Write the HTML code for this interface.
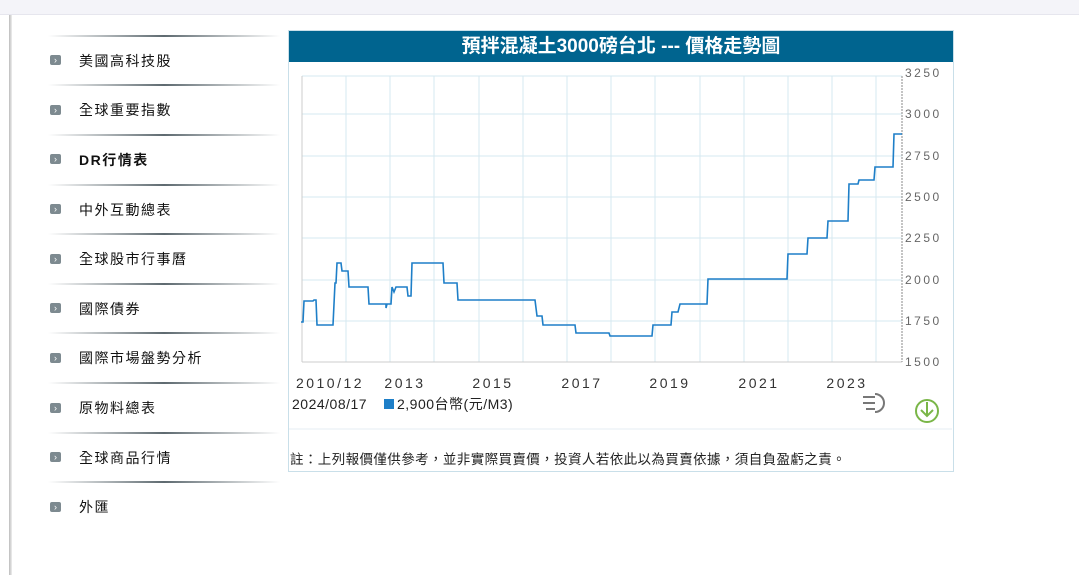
<!DOCTYPE html>
<html><head><meta charset="utf-8"><style>
body{margin:0;width:1079px;height:574px;background:#fff;position:relative;overflow:hidden;font-family:"Liberation Sans","Noto Sans CJK TC",sans-serif;}
.top{position:absolute;left:0;top:0;width:1079px;height:14px;background:#f4f4f9;border-bottom:1px solid #e6e6ee;}
.lb{position:absolute;left:9px;top:15px;width:3px;height:560px;background:linear-gradient(to right,#bbb,#eee);}
.sep{position:absolute;left:48px;width:232px;height:2px;background:linear-gradient(to right,rgba(120,130,135,0),#5e6a70 50%,rgba(120,130,135,0));}
.it{position:absolute;left:79px;font-size:14px;letter-spacing:1.5px;color:#111;}
.ic{position:absolute;left:50px;width:11px;height:10px;background:#7d8a90;border-radius:2px;color:#fff;font-size:9px;line-height:10px;text-align:center;}
.box{position:absolute;left:288px;top:30px;width:664px;height:440px;border:1px solid #c9dfe9;}
.hd{position:absolute;left:289px;top:31px;width:664px;height:31px;background:#00648f;color:#fff;font-weight:bold;font-size:19px;text-align:center;line-height:31px;}
</style></head><body>
<div class="top"></div><div class="lb"></div>
<div class="box"></div>
<div class="hd">預拌混凝土3000磅台北 --- 價格走勢圖</div>
<div class="sep" style="top:35px"></div><div class="ic" style="top:55px">›</div><div class="it" style="top:51px">美國高科技股</div>
<div class="sep" style="top:84px"></div><div class="ic" style="top:105px">›</div><div class="it" style="top:100px">全球重要指數</div>
<div class="sep" style="top:134px"></div><div class="ic" style="top:154px">›</div><div class="it" style="top:150px;font-weight:bold">DR行情表</div>
<div class="sep" style="top:184px"></div><div class="ic" style="top:204px">›</div><div class="it" style="top:200px">中外互動總表</div>
<div class="sep" style="top:233px"></div><div class="ic" style="top:254px">›</div><div class="it" style="top:249px">全球股市行事曆</div>
<div class="sep" style="top:283px"></div><div class="ic" style="top:303px">›</div><div class="it" style="top:299px">國際債券</div>
<div class="sep" style="top:332px"></div><div class="ic" style="top:353px">›</div><div class="it" style="top:348px">國際市場盤勢分析</div>
<div class="sep" style="top:382px"></div><div class="ic" style="top:403px">›</div><div class="it" style="top:398px">原物料總表</div>
<div class="sep" style="top:432px"></div><div class="ic" style="top:452px">›</div><div class="it" style="top:448px">全球商品行情</div>
<div class="sep" style="top:481px"></div><div class="ic" style="top:502px">›</div><div class="it" style="top:497px">外匯</div>
<svg style="position:absolute;left:0;top:0" width="1079" height="574">
<g stroke="#d6e8f0" stroke-width="1">
<line x1="302" y1="114" x2="902" y2="114"/><line x1="302" y1="156" x2="902" y2="156"/><line x1="302" y1="197" x2="902" y2="197"/><line x1="302" y1="238" x2="902" y2="238"/><line x1="302" y1="280" x2="902" y2="280"/><line x1="302" y1="321" x2="902" y2="321"/>
<line x1="346" y1="76" x2="346" y2="362"/><line x1="390" y1="76" x2="390" y2="362"/><line x1="434" y1="76" x2="434" y2="362"/><line x1="479" y1="76" x2="479" y2="362"/><line x1="523" y1="76" x2="523" y2="362"/><line x1="567" y1="76" x2="567" y2="362"/><line x1="611" y1="76" x2="611" y2="362"/><line x1="655" y1="76" x2="655" y2="362"/><line x1="700" y1="76" x2="700" y2="362"/><line x1="744" y1="76" x2="744" y2="362"/><line x1="788" y1="76" x2="788" y2="362"/><line x1="832" y1="76" x2="832" y2="362"/><line x1="876" y1="76" x2="876" y2="362"/>
<line x1="302" y1="76" x2="902" y2="76"/>
</g>
<line x1="302" y1="76" x2="302" y2="362" stroke="#ccc"/>
<line x1="302" y1="362" x2="902" y2="362" stroke="#ccc"/>
<line x1="902" y1="76" x2="902" y2="362" stroke="#888" stroke-dasharray="2,1"/>
<polyline fill="none" stroke="#1e7fc8" stroke-width="1.6" points="301,322 303,322 304,301 313,301 314,300 316,300 317,325 333,325 335,283 336,283 337,263 341,263 342,271 348,271 349,287 368,287 369,304 386,304 386,308 387,304 391,304 392,287 394,292 396,287 407,287 408,296 411,296 412,263 443,263 444,283 457,283 458,300 535,300 537,316 542,316 543,325 575,325 576,333 609,333 610,336 652,336 653,325 671,325 672,312 678,312 680,304 707,304 708,279 787,279 788,254 807,254 808,238 827,238 828,221 848,221 849,184 858,184 859,180 874,180 875,167 893,167 894,134 902,134"/>
<g font-size="12" fill="#666" letter-spacing="2.5" font-family="Liberation Sans,sans-serif">
<text x="905" y="77">3250</text><text x="905" y="118">3000</text><text x="905" y="160">2750</text><text x="905" y="201">2500</text><text x="905" y="242">2250</text><text x="905" y="284">2000</text><text x="905" y="325">1750</text><text x="905" y="366">1500</text>
</g>
<g font-size="14" fill="#333" letter-spacing="2.5" text-anchor="middle" font-family="Liberation Sans,sans-serif">
<text x="330" y="388">2010/12</text><text x="405" y="388">2013</text><text x="493" y="388">2015</text><text x="582" y="388">2017</text><text x="670" y="388">2019</text><text x="759" y="388">2021</text><text x="847" y="388">2023</text>
</g>
<text x="292" y="409" font-size="14" fill="#222" letter-spacing="0.5">2024/08/17</text>
<rect x="384" y="399" width="10" height="10" fill="#1e7fc8"/>
<text x="397" y="409" font-size="14" fill="#222" letter-spacing="0.5" font-family="Liberation Sans,Noto Sans CJK TC,sans-serif">2,900台幣(元/M3)</text>
<path d="M863 397 h12 M863 403 h12 M866 409 h9 M875 394 a8 8 0 0 1 0 18" fill="none" stroke="#777" stroke-width="2"/>
<circle cx="927" cy="411" r="11" fill="none" stroke="#7ab648" stroke-width="2"/>
<path d="M927 402 v14 M921 410 l6 6 6 -6" fill="none" stroke="#7ab648" stroke-width="2"/>
<line x1="289" y1="429" x2="952" y2="429" stroke="#e4eef3"/>
<text x="290" y="464" font-size="13.5" fill="#222" letter-spacing="0.4" font-family="Liberation Sans,Noto Sans CJK TC,sans-serif">註：上列報價僅供參考，並非實際買賣價，投資人若依此以為買賣依據，須自負盈虧之責。</text>
</svg>
</body></html>
